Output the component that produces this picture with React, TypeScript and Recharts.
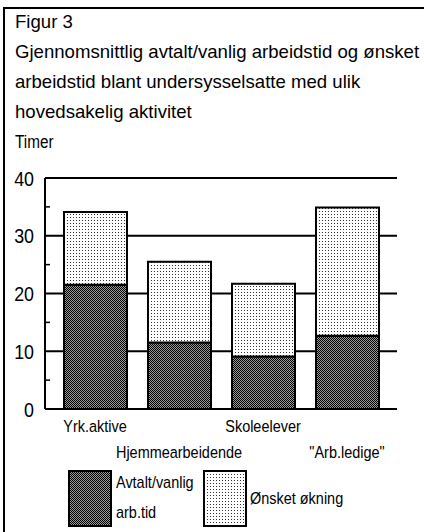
import { BarChart, Bar, XAxis, YAxis, CartesianGrid } from "recharts";

const categories = ["Yrk.aktive", "Hjemmearbeidende", "Skoleelever", "\"Arb.ledige\""];
const avtaltVanlig = [21.5, 11.5, 9.1, 12.7];
const onsketOkning = [12.6, 14.0, 12.6, 22.2];
const yTicks = [0, 5, 10, 15, 20, 25, 30, 35, 40];
const yLabels = [0, 10, 20, 30, 40];
const gridValues = [10, 20, 30, 40];

const titleLines = [
  "Gjennomsnittlig avtalt/vanlig arbeidstid og ønsket",
  "arbeidstid blant undersysselsatte med ulik",
  "hovedsakelig aktivitet",
];

const data = categories.map((name, i) => ({
  name,
  avtalt: avtaltVanlig[i],
  onsket: onsketOkning[i],
}));

const FONT = "Arial, 'Liberation Sans', Helvetica, sans-serif";
const SQUEEZE = 0.85; // the original uses a condensed face

function Patterns({ prefix }: { prefix: string }) {
  return (
    <defs>
      <pattern id={`${prefix}-dark`} width="2" height="2" patternUnits="userSpaceOnUse">
        <rect width="2" height="2" fill="#9a9a9a" />
        <rect x="0" y="0" width="1" height="1" fill="#000" />
        <rect x="1" y="1" width="1" height="1" fill="#000" />
      </pattern>
      <pattern id={`${prefix}-light`} width="3" height="3" patternUnits="userSpaceOnUse">
        <rect width="3" height="3" fill="#fff" />
        <rect x="1" y="1" width="1" height="1" fill="#333" />
      </pattern>
    </defs>
  );
}

function YTick(props: any) {
  const { x, y, payload } = props;
  const v = payload.value;
  if (yLabels.includes(v)) {
    return (
      <text
        transform={`translate(${x - 11},${y}) scale(${SQUEEZE},1)`}
        dy="0.36em"
        textAnchor="end"
        fontSize={21}
        fontFamily={FONT}
        fill="#000"
      >
        {v}
      </text>
    );
  }
  return <line x1={x} x2={x + 5} y1={y} y2={y} stroke="#000" strokeWidth={1.5} />;
}

function XTick(props: any) {
  const { x, y, payload, index } = props;
  const dy = index % 2 === 0 ? 23 : 49;
  return (
    <text
      transform={`translate(${x},${y + dy}) scale(${SQUEEZE},1)`}
      textAnchor="middle"
      fontSize={17}
      fontFamily={FONT}
      fill="#000"
    >
      {payload.value}
    </text>
  );
}

const narrow: React.CSSProperties = {
  display: "inline-block",
  transform: `scaleX(${SQUEEZE})`,
  transformOrigin: "left center",
  whiteSpace: "nowrap",
};

export default function App() {
  return (
    <div
      style={{
        position: "absolute",
        top: 0,
        left: 0,
        width: 424,
        height: 532,
        background: "#fff",
        fontFamily: FONT,
        color: "#000",
        overflow: "hidden",
      }}
    >
      {/* frame */}
      <div style={{ position: "absolute", left: 3, top: 7, width: 2, height: 525, background: "#000" }} />
      <div style={{ position: "absolute", left: 3, top: 7, width: 421, height: 2, background: "#000" }} />

      <div style={{ position: "absolute", left: 15, top: 7, fontSize: 18.6, lineHeight: "30px", whiteSpace: "nowrap" }}>
        <div>Figur 3</div>
        {titleLines.map((t) => (
          <div key={t}>{t}</div>
        ))}
        <div style={{ fontSize: 18 }}>
          <span style={narrow}>Timer</span>
        </div>
      </div>

      <div style={{ position: "absolute", left: 0, top: 0 }}>
        <BarChart
          width={424}
          height={532}
          data={data}
          margin={{ top: 178, right: 27, bottom: 73, left: 5 }}
          barSize={63}
        >
          <Patterns prefix="c" />
          <CartesianGrid
            vertical={false}
            horizontalValues={gridValues}
            stroke="#000"
            strokeWidth={2}
            syncWithTicks={false}
          />
          <XAxis
            dataKey="name"
            height={50}
            axisLine={{ stroke: "#000", strokeWidth: 2 }}
            tickLine={false}
            tickSize={0}
            tickMargin={0}
            tick={<XTick />}
            interval={0}
            padding={{ left: 8, right: 8 }}
          />
          <YAxis
            width={40}
            domain={[0, 40]}
            ticks={yTicks}
            interval={0}
            tickSize={0}
            tickMargin={0}
            tickLine={false}
            axisLine={{ stroke: "#000", strokeWidth: 2 }}
            tick={<YTick />}
          />
          <YAxis
            yAxisId="r"
            orientation="right"
            width={0}
            domain={[0, 40]}
            tick={false}
            tickLine={false}
            axisLine={{ stroke: "#000", strokeWidth: 2 }}
          />
          <Bar dataKey="avtalt" stackId="s" fill="url(#c-dark)" stroke="#000" strokeWidth={2} isAnimationActive={false} />
          <Bar dataKey="onsket" stackId="s" fill="url(#c-light)" stroke="#000" strokeWidth={2} isAnimationActive={false} />
        </BarChart>
      </div>

      {/* legend */}
      <div style={{ position: "absolute", left: 68, top: 470, fontSize: 17, display: "flex" }}>
        <svg width={44} height={57} style={{ display: "block" }}>
          <Patterns prefix="l" />
          <rect x={1} y={1} width={42} height={55} fill="url(#l-dark)" stroke="#000" strokeWidth={2} />
        </svg>
        <div style={{ marginLeft: 4, width: 87, lineHeight: "30px", marginTop: -2 }}>
          <div><span style={narrow}>Avtalt/vanlig</span></div>
          <div><span style={narrow}>arb.tid</span></div>
        </div>
        <svg width={44} height={57} style={{ display: "block" }}>
          <Patterns prefix="m" />
          <rect x={1} y={1} width={42} height={55} fill="url(#m-light)" stroke="#000" strokeWidth={2} />
        </svg>
        <div style={{ marginLeft: 3, lineHeight: "30px", marginTop: 14 }}>
          <span style={narrow}>Ønsket økning</span>
        </div>
      </div>
    </div>
  );
}
